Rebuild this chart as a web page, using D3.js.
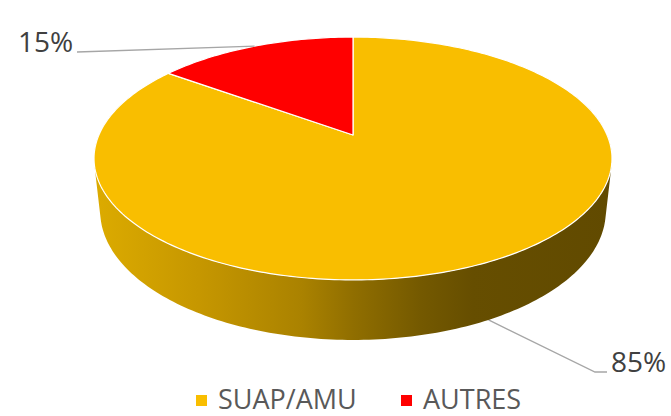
<!DOCTYPE html>
<html>
<head>
<meta charset="utf-8">
<script src="https://cdn.jsdelivr.net/npm/d3@7"></script>
<style>
  body { margin: 0; background: #fff; }
  svg { display: block; font-family: "Open Sans", sans-serif; }
</style>
</head>
<body>
<svg width="671" height="416"></svg>
<script>
var categories = ["SUAP/AMU", "AUTRES"];
var values = [85, 15];
var labels = ["85%", "15%"];
var colors = ["#F9BE00", "#FF0000"];

var svg = d3.select("svg");

// 3d view of the pie: camera above, tilted, with perspective
var cx = 353, cy0 = 135;
var elev = Math.asin(0.46);
var sinE = Math.sin(elev), cosE = Math.cos(elev);
var dist = 4.589;     // camera distance (radius = 1)
var focal = 1166;
var thick = 0.236;    // pie height

function project(theta, y) {
    var X = Math.sin(theta), Z = -Math.cos(theta);
    var depth = dist - y * sinE - Z * cosE;
    var up = y * cosE - Z * sinE;
    return [cx + focal * X / depth, cy0 - focal * up / depth];
}
var center = [cx, cy0];

var pie = d3.pie().sort(null).value(function(d) { return d; });
var arcs = pie(values);

function arcPoints(a0, a1, y) {
    var pts = [];
    var n = Math.max(2, Math.ceil((a1 - a0) / (Math.PI / 180)));
    for (var i = 0; i <= n; i++) pts.push(project(a0 + (a1 - a0) * i / n, y));
    return pts;
}

// side gradient
var defs = svg.append("defs");
var grad = defs.append("linearGradient")
    .attr("id", "side")
    .attr("gradientUnits", "userSpaceOnUse")
    .attr("x1", 95).attr("x2", 612).attr("y1", 0).attr("y2", 0);
[[0, "#dcab00"], [0.2, "#c69700"], [0.4, "#aa8200"], [0.5, "#906e00"],
 [0.63, "#745900"], [0.73, "#664e00"], [1, "#614a00"]].forEach(function(s) {
    grad.append("stop").attr("offset", s[0]).attr("stop-color", s[1]);
});

// leader for the big slice, drawn behind the pie
var mid0 = (arcs[0].startAngle + arcs[0].endAngle) / 2;
var p0 = project(mid0, -thick);
svg.append("polyline")
    .attr("points", [p0, [595, 372], [607, 372]].map(function(p) { return p.join(","); }).join(" "))
    .attr("fill", "none")
    .attr("stroke", "#a6a6a6")
    .attr("stroke-width", 1.3);

// side walls (front half only)
var frontA = Math.PI * 70 / 180, frontB = Math.PI * 290 / 180;
arcs.forEach(function(a, k) {
    var a0 = Math.max(a.startAngle, frontA), a1 = Math.min(a.endAngle, frontB);
    if (a1 <= a0) return;
    var top = arcPoints(a0, a1, 0), bot = arcPoints(a0, a1, -thick);
    var d = "";
    for (var i = 0; i < top.length - 1; i++) {
        var q = [top[i], top[i + 1], bot[i + 1], bot[i]];
        if (d3.polygonArea(q) < 0) q.reverse();
        d += "M" + q.map(function(p) { return p.join(","); }).join("L") + "Z";
    }
    svg.append("path")
        .attr("d", d)
        .attr("fill", k == 0 ? "url(#side)" : "#800000");
});

// top face
svg.selectAll("path.slice")
    .data(arcs)
    .enter().append("path")
    .attr("class", "slice")
    .attr("d", function(a) {
        var pts = [center].concat(arcPoints(a.startAngle, a.endAngle, 0));
        return "M" + pts.map(function(p) { return p.join(","); }).join("L") + "Z";
    })
    .attr("fill", function(a, i) { return colors[i]; })
    .attr("stroke", "#fff")
    .attr("stroke-width", 1.2)
    .attr("stroke-linejoin", "round");

// leader for the small slice
var mid1 = (arcs[1].startAngle + arcs[1].endAngle) / 2;
var p1 = project(mid1, 0);
svg.append("line")
    .attr("x1", 77).attr("y1", 52)
    .attr("x2", p1[0]).attr("y2", p1[1])
    .attr("stroke", "#a6a6a6")
    .attr("stroke-width", 1.3);

svg.append("text")
    .attr("x", 611).attr("y", 372)
    .attr("font-size", 28)
    .attr("fill", "#404040")
    .text(labels[0]);
svg.append("text")
    .attr("x", 18).attr("y", 52)
    .attr("font-size", 28)
    .attr("fill", "#404040")
    .text(labels[1]);

// legend
var legendX = [196, 401];
var legend = svg.selectAll("g.legend")
    .data(categories)
    .enter().append("g")
    .attr("class", "legend")
    .attr("transform", function(d, i) { return "translate(" + legendX[i] + ",0)"; });
legend.append("rect")
    .attr("x", 0).attr("y", 395)
    .attr("width", 11).attr("height", 11)
    .attr("fill", function(d, i) { return colors[i]; });
legend.append("text")
    .attr("x", 22).attr("y", 408.5)
    .attr("font-size", 27)
    .attr("fill", "#595959")
    .text(function(d) { return d; });
</script>
</body>
</html>
